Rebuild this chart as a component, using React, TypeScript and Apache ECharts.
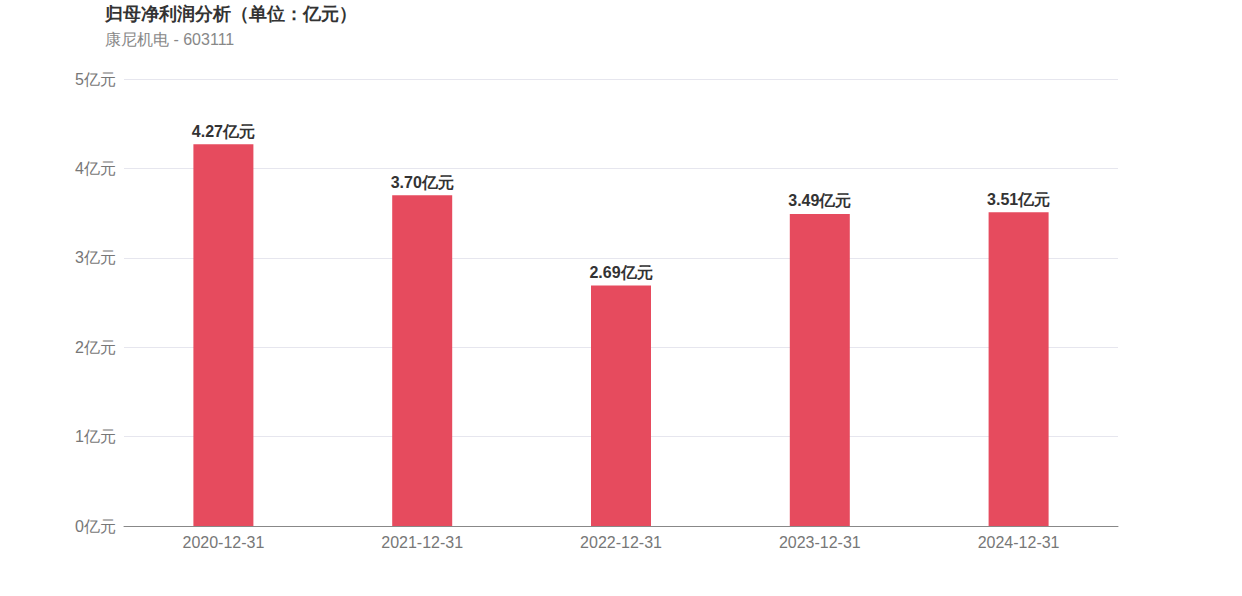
import React, { useEffect, useRef } from "react";
import * as echarts from "echarts";

const categories = ["2020-12-31", "2021-12-31", "2022-12-31", "2023-12-31", "2024-12-31"];
const profits = [4.27, 3.70, 2.69, 3.49, 3.51];
const titleText = "归母净利润分析（单位：亿元）";
const subtitleText = "康尼机电 - 603111";

export default function App() {
  const ref = useRef<HTMLDivElement>(null);
  useEffect(() => {
    if (!ref.current) return;
    const chart = echarts.init(ref.current, null, { renderer: "svg" });
    chart.setOption({
      animation: false,
      title: {
        text: titleText,
        subtext: subtitleText,
        left: 100,
        top: 0,
        itemGap: 8,
        textStyle: { fontSize: 18, fontWeight: "bold", color: "#333" },
        subtextStyle: { fontSize: 16, color: "#888" },
      },
      grid: { left: 124, right: 124, top: 79, bottom: 70, containLabel: false },
      xAxis: {
        type: "category",
        data: categories,
        axisTick: { show: false },
        axisLine: { lineStyle: { color: "#888" } },
        axisLabel: { fontSize: 16, color: "#777", margin: 8 },
      },
      yAxis: {
        type: "value",
        min: 0,
        max: 5,
        interval: 1,
        axisLabel: { fontSize: 16, color: "#777", formatter: (v: number) => v + "亿元", margin: 8 },
        splitLine: { lineStyle: { color: "#e6e6ee" } },
        axisLine: { show: false },
        axisTick: { show: false },
      },
      series: [
        {
          type: "bar",
          data: profits,
          barWidth: 60,
          itemStyle: { color: "#e64b5e" },
          label: {
            show: true,
            position: "top",
            fontSize: 16,
            fontWeight: "bold",
            color: "#333",
            formatter: (p: any) => p.value.toFixed(2) + "亿元",
          },
        },
      ],
    });
    return () => chart.dispose();
  }, []);
  return <div ref={ref} style={{ position: "absolute", left: 0, top: 0, width: 1242, height: 596 }} />;
}
